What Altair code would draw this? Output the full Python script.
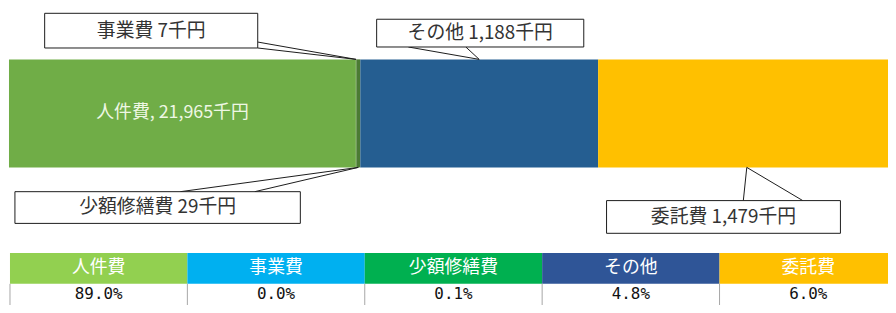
import altair as alt
import pandas as pd

# ---- data ----
categories = ["人件費", "事業費", "少額修繕費", "その他", "委託費"]
amounts = [21965, 7, 29, 1188, 1479]          # 千円
shares = ["89.0%", "0.0%", "0.1%", "4.8%", "6.0%"]
drawn_lengths = [350, 0.5, 4, 240, 300]       # segment lengths as drawn (picture is not to scale)
bar_colors = ["#70AD47", "#5E9440", "#4B7B33", "#255E91", "#FFC000"]
header_colors = ["#92D050", "#00B0F0", "#00B050", "#2F5597", "#FFC000"]

# ---- layout (chart pixel units) ----
W, H = 888, 297
BAR_X0 = 1
BAR_TOP, BAR_BOTTOM = 50.5, 159.5
COL_X0, COL_W = 2, 179
HEAD_TOP, HEAD_BOTTOM, VAL_BOTTOM = 246, 277, 305
FONT = "Noto Sans CJK JP"

callout_layout = {
    "事業費":   dict(box=(37, 4, 252, 39),    base=((252, 33), (252, 39)),   tip_y=BAR_TOP),
    "その他":   dict(box=(372, 10, 581, 38),  base=((404, 38), (462, 38)),   tip_y=BAR_TOP),
    "少額修繕費": dict(box=(7, 184, 295, 216), base=((174, 184), (249, 184)), tip_y=BAR_BOTTOM),
    "委託費":   dict(box=(604, 193, 840, 226), base=((742, 193), (802, 193)), tip_y=BAR_BOTTOM),
}

# ---- build tables ----
rows = []
pos = BAR_X0
for c, a, L, col in zip(categories, amounts, drawn_lengths, bar_colors):
    rows.append(dict(cat=c, amount=a, start=pos, end=pos + L, mid=pos + L / 2,
                     top=BAR_TOP, bottom=BAR_BOTTOM, color=col))
    pos += L
bars = pd.DataFrame(rows)
mid_of = dict(zip(bars["cat"], bars["mid"]))

inner = bars[bars["cat"] == "人件費"].copy()
inner["label"] = inner.apply(lambda r: f"{r['cat']}, {r['amount']:,}千円", axis=1)
inner["ymid"] = (BAR_TOP + BAR_BOTTOM) / 2

boxes, wedges = [], []
for c, a in zip(categories, amounts):
    if c not in callout_layout:
        continue
    lay = callout_layout[c]
    x0, y0, x1, y1 = lay["box"]
    boxes.append(dict(x=x0, x2=x1, y=y0, y2=y1, tx=(x0 + x1) / 2, ty=(y0 + y1) / 2,
                      label=f"{c} {a:,}千円"))
    for bx, by in lay["base"]:
        wedges.append(dict(x=bx, y=by, x2=mid_of[c], y2=lay["tip_y"]))
boxes = pd.DataFrame(boxes)
wedges = pd.DataFrame(wedges)

table = pd.DataFrame(dict(
    cat=categories, share=shares, hcolor=header_colors,
    x=[COL_X0 + i * COL_W for i in range(len(categories))],
    x2=[COL_X0 + (i + 1) * COL_W for i in range(len(categories))],
))
table["xm"] = (table["x"] + table["x2"]) / 2
table["ht"], table["hb"], table["vb"] = HEAD_TOP, HEAD_BOTTOM, VAL_BOTTOM
table["hy"] = (HEAD_TOP + HEAD_BOTTOM) / 2
table["vy"] = HEAD_BOTTOM + 10
borders = pd.DataFrame(dict(x=[COL_X0 + i * COL_W for i in range(len(categories) + 1)]))
borders["y"], borders["y2"] = HEAD_BOTTOM, VAL_BOTTOM

xs = alt.Scale(domain=[0, W], nice=False, zero=False)
ys = alt.Scale(domain=[0, H], nice=False, zero=False, reverse=True)


def X(f):
    return alt.X(f, type="quantitative", scale=xs, axis=None)


def Y(f):
    return alt.Y(f, type="quantitative", scale=ys, axis=None)


bar_layer = alt.Chart(bars).mark_rect().encode(
    x=X("start"), x2="end", y=Y("top"), y2="bottom",
    color=alt.Color("color:N", scale=None))

inner_text = alt.Chart(inner).mark_text(
    font=FONT, fontSize=18, color="#EEF7E4", dx=-10).encode(
    x=X("mid"), y=Y("ymid"), text="label:N")

wedge_layer = alt.Chart(wedges).mark_rule(color="#1a1a1a", strokeWidth=1).encode(
    x=X("x"), y=Y("y"), x2="x2", y2="y2")

box_layer = alt.Chart(boxes).mark_rect(fill="white", stroke="#1a1a1a", strokeWidth=1).encode(
    x=X("x"), x2="x2", y=Y("y"), y2="y2")

box_text = alt.Chart(boxes).mark_text(font=FONT, fontSize=19, color="#333333").encode(
    x=X("tx"), y=Y("ty"), text="label:N")

head_rect = alt.Chart(table).mark_rect().encode(
    x=X("x"), x2="x2", y=Y("ht"), y2="hb", color=alt.Color("hcolor:N", scale=None))

head_text = alt.Chart(table).mark_text(font=FONT, fontSize=18, color="white").encode(
    x=X("xm"), y=Y("hy"), text="cat:N")

border_layer = alt.Chart(borders).mark_rule(color="#A6A6A6", strokeWidth=1).encode(
    x=X("x"), y=Y("y"), y2="y2")

val_text = alt.Chart(table).mark_text(font="DejaVu Sans Mono", fontSize=16, color="#111111").encode(
    x=X("xm"), y=Y("vy"), text="share:N")

chart = alt.layer(
    bar_layer, inner_text, wedge_layer, box_layer, box_text,
    head_rect, head_text, border_layer, val_text
).properties(
    width=W, height=H, padding=0, autosize=alt.AutoSizeParams(type="none"),
    background="white"
).configure_view(stroke=None)

chart.save("out.html", embed_options={"renderer": "svg", "actions": False})
